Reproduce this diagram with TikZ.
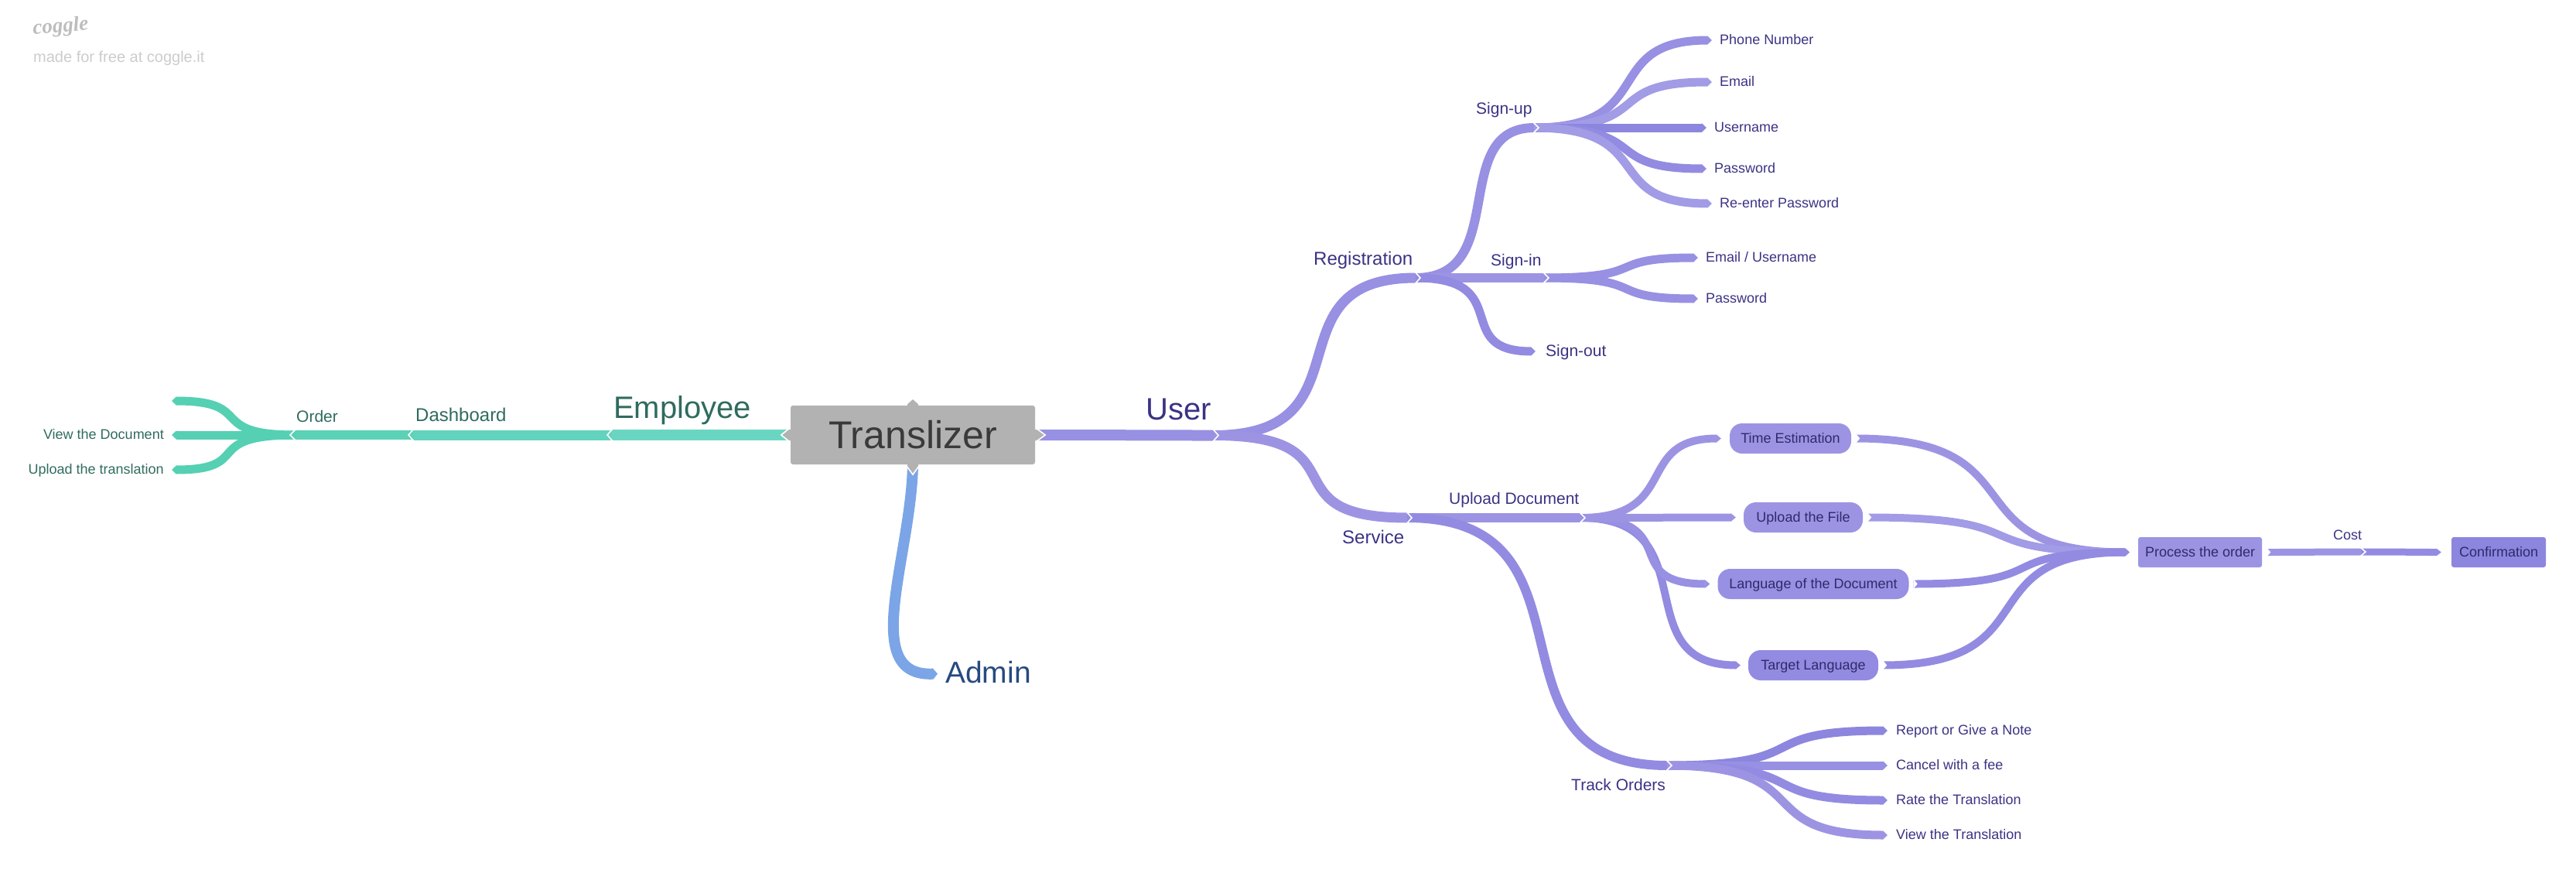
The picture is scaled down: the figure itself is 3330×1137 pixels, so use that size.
\documentclass[tikz,border=0pt]{standalone}
\usepackage{fontspec}
\usetikzlibrary{arrows.meta,calc}
\setmainfont{Liberation Sans}
\newfontfamily\logofont{Liberation Serif}

\definecolor{hubgrey}{HTML}{B2B2B2}
\definecolor{hubink}{HTML}{3A3A3A}
\definecolor{greenink}{HTML}{2F6B5E}
\definecolor{greenA}{HTML}{6AD6C2}
\definecolor{greenB}{HTML}{62D3BC}
\definecolor{greenC}{HTML}{5BD1B6}
\definecolor{greenD}{HTML}{55D0B3}
\definecolor{purpleink}{HTML}{3B3284}
\definecolor{boxink}{HTML}{2F2A6B}
\definecolor{purpleA}{HTML}{A29BE6}
\definecolor{purpleB}{HTML}{9C94E3}
\definecolor{purpleC}{HTML}{9890E2}
\definecolor{purpleD}{HTML}{938BE1}
\definecolor{purpleE}{HTML}{8D86DF}
\definecolor{adminblue}{HTML}{7BA5E6}
\definecolor{adminink}{HTML}{264A80}

\newcommand{\fsize}[1]{\fontsize{#1}{#1}\selectfont}
\newcommand{\bulge}{.72}
\newcommand{\Branch}[3][]{\draw[branch,#1] (#2) .. controls ($(#2)!\bulge!(#2 -| #3)$) and ($(#3)!\bulge!(#3 -| #2)$) .. (#3);}
\newcommand{\Notch}[3]{\draw[notch,shift={(#1)},rotate=#3] (-7,-#2) -- (0,0) -- (-7,#2);}
\newcommand{\NotchOut}[2]{\fill[white,shift={(#1)}] (6,-#2) -- (11,0) -- (6,#2) -- cycle;}
\newcommand{\HubTip}[3]{\fill[hubgrey,shift={(#1)},rotate=#2] (0,-7) -- (3,-7) -- (#3,0) -- (3,7) -- (0,7) -- cycle;
\draw[notch,shift={(#1)},rotate=#2] (2,-8) -- (#3,0) -- (2,8);}

\tikzset{
  branch/.style={line width=11pt,-{Triangle[length=6pt,width=0pt 1]},shorten <=-6pt},
  notch/.style={white,line width=1.6pt},
  hubbox/.style={fill=hubgrey,rounded corners=3pt,minimum width=316pt,minimum height=76pt,inner sep=0pt,text=hubink,font=\fsize{50}},
  bigtext/.style={inner sep=0pt,font=\fsize{40}},
  midtext/.style={inner sep=0pt,font=\fsize{24}},
  subtext/.style={inner sep=0pt,font=\fsize{21}},
  leaf/.style={inner sep=0pt,font=\fsize{18},text=purpleink,text height=15pt,text depth=4pt},
  pill/.style={inner sep=0pt,font=\fsize{18},text=boxink,rounded corners=16pt,minimum height=39pt,text height=15pt,text depth=4pt},
  flatbox/.style={pill,rounded corners=3pt}
}

\begin{document}
\begin{tikzpicture}[x=1pt,y=-1pt]

\useasboundingbox (0,0) rectangle (3330,1137);

\node[hubbox] (hub) at (1180,562) {Translizer};

\node[inner sep=0pt,anchor=base west,text=hubgrey!85,font=\logofont\bfseries\itshape\fsize{27},rotate=5] (logo) at (43,45) {coggle};
\node[inner sep=0pt,anchor=base west,text=black!20,font=\fsize{20}] (madefor) at (43,81) {made for free at coggle.it};

\coordinate (jEmployee) at (785,562);
\coordinate (jDashboard) at (528,562);
\coordinate (jOrder) at (375,562);
\coordinate (jUser) at (1575,562.5);
\coordinate (jRegistration) at (1836,359);
\coordinate (jSignup) at (1989,165);
\coordinate (jSignin) at (2002,359);
\coordinate (jService) at (1825,669);
\coordinate (jUpload) at (2049,669);
\coordinate (jTrack) at (2161,989);
\coordinate (jCost) at (3058,713);
\coordinate (greenTop) at (222,518);

\node[bigtext,anchor=base west,text=greenink] (employee) at (793,540) {Employee};
\node[midtext,anchor=base west,text=greenink] (dashboard) at (537,544) {Dashboard};
\node[subtext,anchor=base west,text=greenink] (order) at (383,545) {Order};
\node[leaf,anchor=east,text=greenink] (viewdoc) at (212,562) {View the Document};
\node[leaf,anchor=east,text=greenink] (uploadtr) at (212,607) {Upload the translation};

\node[bigtext,anchor=base west,text=purpleink] (user) at (1481,542) {User};
\node[midtext,anchor=base west,text=purpleink] (registration) at (1698,342) {Registration};
\node[subtext,anchor=base west,text=purpleink] (signup) at (1908,148) {Sign-up};
\node[subtext,anchor=base west,text=purpleink] (signin) at (1927,343) {Sign-in};
\node[subtext,anchor=west,text=purpleink,text height=17pt,text depth=5pt] (signout) at (1998,454) {Sign-out};
\node[midtext,anchor=base west,text=purpleink] (service) at (1735,702) {Service};
\node[subtext,anchor=base west,text=purpleink] (upload) at (1873,651) {Upload Document};
\node[subtext,anchor=base west,text=purpleink] (track) at (2031,1021) {Track Orders};
\node[leaf,anchor=base west,font=\fsize{18}] (cost) at (3016,697) {Cost};

\node[leaf,anchor=west] (phone) at (2223,52) {Phone Number};
\node[leaf,anchor=west] (email) at (2223,106) {Email};
\node[leaf,anchor=west] (username) at (2216,165) {Username};
\node[leaf,anchor=west] (password) at (2216,218) {Password};
\node[leaf,anchor=west] (reenter) at (2223,263) {Re-enter Password};
\node[leaf,anchor=west] (emailuser) at (2205,333) {Email / Username};
\node[leaf,anchor=west] (passwordb) at (2205,386) {Password};
\node[leaf,anchor=west] (report) at (2451,944) {Report or Give a Note};
\node[leaf,anchor=west] (cancel) at (2451,989) {Cancel with a fee};
\node[leaf,anchor=west] (rate) at (2451,1034) {Rate the Translation};
\node[leaf,anchor=west] (viewtr) at (2451,1079) {View the Translation};

\node[pill,fill=purpleB,minimum width=157pt] (time) at (2314.5,566.5) {Time Estimation};
\node[pill,fill=purpleB,minimum width=154pt] (file) at (2331,668.5) {Upload the File};
\node[pill,fill=purpleC,minimum width=247pt] (language) at (2344,754.5) {Language of the Document};
\node[pill,fill=purpleD,minimum width=168pt] (target) at (2344,859.5) {Target Language};
\node[flatbox,fill=purpleB,minimum width=160pt] (process) at (2844,713.5) {Process the order};
\node[flatbox,fill=purpleE,minimum width=122pt] (confirm) at (3230,713.5) {Confirmation};

\node[bigtext,anchor=west,text=adminink,font=\fsize{39},text height=29pt,text depth=5pt] (admin) at (1222,870) {Admin};

\Branch[greenA,line width=14pt,shorten <=0pt]{hub.west}{jEmployee}
\Branch[greenB,line width=13pt]{jEmployee}{jDashboard}
\Branch[greenC,line width=12pt]{jDashboard}{jOrder}
\Branch[greenD]{jOrder}{greenTop}
\Branch[greenD,shorten >=10pt]{jOrder}{viewdoc.east}
\Branch[greenD,shorten >=10pt]{jOrder}{uploadtr.east}

\draw[branch,adminblue,line width=14pt,shorten <=0pt,shorten >=10pt] (hub.south) .. controls (1178,720) and (1110,875) .. (admin.west);

\renewcommand{\bulge}{.77}
\Branch[purpleC,line width=14pt,shorten <=0pt]{hub.east}{jUser}
\Branch[purpleC,line width=13pt]{jUser}{jRegistration}
\Branch[purpleB,line width=13pt]{jUser}{jService}
\Branch[purpleC,line width=12pt]{jRegistration}{jSignup}
\Branch[purpleB,line width=12pt]{jRegistration}{jSignin}
\Branch[purpleD,shorten >=13pt]{jRegistration}{signout.west}
\Branch[purpleB,line width=12pt]{jService}{jUpload}
\Branch[purpleD,line width=12pt]{jService}{jTrack}
\Branch[purpleD,line width=10pt,shorten >=10pt]{jUpload}{target.west}
\Branch[purpleC,line width=10pt,shorten >=10pt]{jUpload}{language.west}

\renewcommand{\bulge}{.67}
\Branch[purpleC,shorten >=10pt]{jSignup}{phone.west}
\Branch[purpleA,shorten >=10pt]{jSignup}{email.west}
\Branch[purpleE,shorten >=10pt]{jSignup}{username.west}
\Branch[purpleD,shorten >=10pt]{jSignup}{password.west}
\Branch[purpleA,shorten >=10pt]{jSignup}{reenter.west}
\Branch[purpleC,shorten >=10pt]{jSignin}{emailuser.west}
\Branch[purpleC,shorten >=10pt]{jSignin}{passwordb.west}
\Branch[purpleB,line width=10pt,shorten >=11pt]{jUpload}{time.west}
\Branch[purpleB,line width=10pt,shorten >=10pt]{jUpload}{file.west}
\Branch[purpleE,shorten >=11pt]{jTrack}{report.west}
\Branch[purpleC,shorten >=11pt]{jTrack}{cancel.west}
\Branch[purpleD,shorten >=11pt]{jTrack}{rate.west}
\Branch[purpleB,shorten >=11pt]{jTrack}{viewtr.west}

\Branch[purpleB,line width=10pt,shorten <=6pt,shorten >=11pt]{time.east}{process.west}
\Branch[purpleA,line width=10pt,shorten <=6pt,shorten >=11pt]{file.east}{process.west}
\Branch[purpleD,line width=10pt,shorten <=6pt,shorten >=11pt]{language.east}{process.west}
\Branch[purpleD,line width=10pt,shorten <=6pt,shorten >=11pt]{target.east}{process.west}
\Branch[purpleB,line width=9pt,shorten <=6pt]{process.east}{jCost}
\Branch[purpleD,line width=9pt,shorten >=13pt]{jCost}{confirm.west}

\Notch{jEmployee}{8}{180}
\Notch{jDashboard}{8}{180}
\Notch{jOrder}{7}{180}
\Notch{jUser}{8}{0}
\Notch{jRegistration}{8}{0}
\Notch{jSignup}{7}{0}
\Notch{jSignin}{7}{0}
\Notch{jService}{8}{0}
\Notch{jUpload}{7}{0}
\Notch{jTrack}{7}{0}
\Notch{jCost}{6}{0}

\NotchOut{time.east}{6}
\NotchOut{file.east}{6}
\NotchOut{language.east}{6}
\NotchOut{target.east}{6}
\NotchOut{process.east}{6}

\HubTip{hub.east}{0}{13}
\HubTip{hub.west}{180}{12}
\HubTip{hub.south}{-90}{13}
\HubTip{hub.north}{90}{9}

\end{tikzpicture}
\end{document}
